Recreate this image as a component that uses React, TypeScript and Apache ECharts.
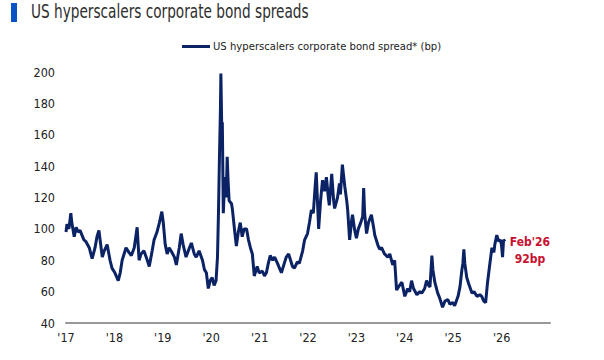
import React, { useEffect, useRef } from "react";
import * as echarts from "echarts";

const title = "US hyperscalers corporate bond spreads";
const seriesName = "US hyperscalers corporate bond spread* (bp)";
const endNote = ["Feb'26", "92bp"];

// x positions in decimal years
const years = [
  2017.0, 2017.02, 2017.06, 2017.1, 2017.12, 2017.17, 2017.21, 2017.25, 2017.29, 2017.33,
  2017.37, 2017.41, 2017.48, 2017.54, 2017.6, 2017.64, 2017.68, 2017.75, 2017.79, 2017.85,
  2017.91, 2017.95, 2018.01, 2018.08, 2018.12, 2018.16, 2018.2, 2018.24, 2018.3, 2018.35,
  2018.41, 2018.47, 2018.51, 2018.55, 2018.61, 2018.68, 2018.72, 2018.78, 2018.82, 2018.88,
  2018.93, 2018.98, 2019.01, 2019.05, 2019.09, 2019.13, 2019.17, 2019.24, 2019.28, 2019.34,
  2019.38, 2019.42, 2019.48, 2019.55, 2019.59, 2019.65, 2019.69, 2019.75, 2019.82, 2019.86,
  2019.9, 2019.94, 2019.98, 2020.02, 2020.06, 2020.1, 2020.13, 2020.15, 2020.17, 2020.19,
  2020.2, 2020.22, 2020.23, 2020.25, 2020.27, 2020.29, 2020.31, 2020.33, 2020.35, 2020.37,
  2020.42, 2020.44, 2020.48, 2020.52, 2020.56, 2020.6, 2020.64, 2020.68, 2020.73, 2020.77,
  2020.81, 2020.85, 2020.89, 2020.91, 2020.95, 2020.99, 2021.06, 2021.1, 2021.14, 2021.18,
  2021.22, 2021.27, 2021.31, 2021.37, 2021.41, 2021.45, 2021.51, 2021.55, 2021.6, 2021.64,
  2021.68, 2021.72, 2021.78, 2021.82, 2021.89, 2021.93, 2021.99, 2022.03, 2022.07, 2022.11,
  2022.15, 2022.17, 2022.22, 2022.26, 2022.3, 2022.34, 2022.38, 2022.42, 2022.44, 2022.49,
  2022.53, 2022.55, 2022.61, 2022.65, 2022.67, 2022.71, 2022.76, 2022.8, 2022.82, 2022.86,
  2022.9, 2022.92, 2022.96, 2023.0, 2023.04, 2023.09, 2023.13, 2023.15, 2023.17, 2023.21,
  2023.25, 2023.31, 2023.36, 2023.38, 2023.44, 2023.48, 2023.52, 2023.58, 2023.65, 2023.69,
  2023.75, 2023.79, 2023.83, 2023.87, 2023.94, 2024.0, 2024.06, 2024.1, 2024.14, 2024.18,
  2024.25, 2024.31, 2024.35, 2024.41, 2024.45, 2024.49, 2024.52, 2024.56, 2024.58, 2024.62,
  2024.68, 2024.72, 2024.78, 2024.83, 2024.89, 2024.93, 2024.99, 2025.03, 2025.1, 2025.14,
  2025.18, 2025.2, 2025.22, 2025.24, 2025.28, 2025.32, 2025.39, 2025.43, 2025.49, 2025.55,
  2025.59, 2025.63, 2025.67, 2025.71, 2025.75, 2025.8, 2025.84, 2025.86, 2025.9, 2025.94,
  2025.98, 2026.0, 2026.02, 2026.04, 2026.07,
];

const spreads = [
  98, 103, 100, 110, 104, 95, 101, 98, 99, 96,
  93, 92, 88, 81, 88, 95, 99, 82, 86, 90,
  80, 75, 72, 67, 72, 80, 84, 88, 85, 83,
  88, 101, 80, 84, 86, 80, 76, 86, 93, 98,
  104, 111, 104, 90, 84, 88, 86, 82, 77, 88,
  97, 90, 82, 88, 91, 84, 82, 86, 80, 74,
  72, 62, 67, 69, 64, 67, 82, 110, 145, 175,
  199, 160, 168, 110, 125, 133, 120, 146, 130, 118,
  116, 112, 100, 89, 98, 104, 95, 100, 100, 93,
  88, 84, 70, 72, 76, 72, 73, 70, 72, 78,
  83, 80, 82, 78, 75, 72, 78, 82, 84, 80,
  76, 75, 79, 78, 86, 93, 97, 104, 112, 110,
  128, 136, 100, 118, 131, 124, 133, 120, 115, 135,
  118, 113, 120, 129, 122, 141, 127, 118, 112, 93,
  105, 109, 100, 94, 100, 104, 108, 126, 110, 97,
  104, 109, 100, 96, 90, 87, 88, 84, 82, 84,
  77, 80, 61, 63, 66, 57, 62, 60, 67, 62,
  58, 60, 59, 62, 67, 64, 63, 83, 74, 66,
  59, 56, 50, 54, 55, 52, 53, 51, 57, 63,
  74, 78, 87, 78, 69, 65, 59, 60, 57, 58,
  57, 54, 53, 66, 76, 88, 85, 90, 96, 92,
  93, 89, 82, 93, 92,
];

const yTicks = { min: 40, max: 200, step: 20 };
const xTicks = { min: 2017, max: 2027, step: 1 };

const NAVY = "#0b2265";
const RED = "#c8102e";
const FONT = "'Liberation Sans Narrow', 'DejaVu Sans Condensed', 'Roboto', sans-serif";

export default function App() {
  const ref = useRef<HTMLDivElement>(null);
  useEffect(() => {
    if (!ref.current) return;
    const chart = echarts.init(ref.current, null, { renderer: "svg" });
    const data = years.map((x, i) => [x, spreads[i]]);
    chart.setOption({
      animation: false,
      backgroundColor: "#ffffff",
      textStyle: { fontFamily: FONT },
      graphic: [
        { type: "rect", left: 11, top: 3, shape: { width: 6, height: 19 }, style: { fill: "#0a53c2" } },
        {
          type: "text",
          x: 31,
          y: 2,
          scaleX: 0.8,
          style: { text: title, fontSize: 19, fontFamily: FONT, fill: "#2e2e2e" },
        },
      ],
      legend: {
        top: 41,
        left: 182,
        padding: 0,
        icon: "rect",
        itemWidth: 28,
        itemHeight: 3,
        itemGap: 4,
        textStyle: { fontSize: 11.2, color: "#222", fontFamily: FONT, padding: [0, 0, 0, -2] },
        data: [seriesName],
      },
      grid: { left: 66, right: 54, top: 72, bottom: 37, containLabel: false },
      xAxis: {
        type: "value",
        min: xTicks.min,
        max: xTicks.max,
        interval: xTicks.step,
        axisLine: { show: true, lineStyle: { color: "#999", width: 2 } },
        axisTick: { show: false },
        splitLine: { show: false },
        axisLabel: {
          color: "#222",
          fontSize: 12.5,
          margin: 8,
          fontFamily: FONT,
          formatter: (v: number) => (v >= xTicks.max ? "" : "'" + String(v).slice(2)),
        },
      },
      yAxis: {
        type: "value",
        min: yTicks.min,
        max: yTicks.max,
        interval: yTicks.step,
        axisLine: { show: false },
        axisTick: { show: false },
        splitLine: { show: false },
        axisLabel: { color: "#222", fontSize: 12.5, margin: 11, fontFamily: FONT },
      },
      series: [
        {
          name: seriesName,
          type: "line",
          data,
          showSymbol: false,
          symbol: "none",
          lineStyle: { color: NAVY, width: 3 },
          itemStyle: { color: NAVY },
          endLabel: {
            show: true,
            formatter: () => endNote.join("\n"),
            color: RED,
            fontWeight: "bold",
            fontSize: 12,
            lineHeight: 17,
            align: "center",
            fontFamily: FONT,
            offset: [17, 9],
          },
        },
      ],
    });
    return () => chart.dispose();
  }, []);
  return <div ref={ref} style={{ width: 604, height: 360, position: "absolute", left: 0, top: 0 }} />;
}
